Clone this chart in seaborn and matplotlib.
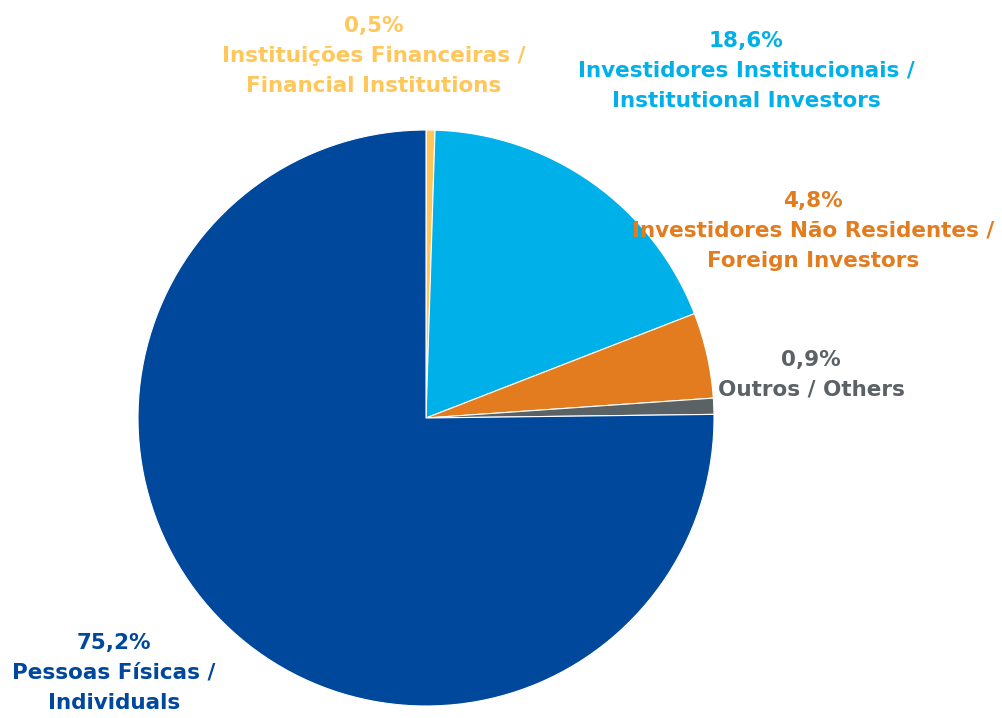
import matplotlib
matplotlib.use("Agg")
import matplotlib.pyplot as plt
import seaborn as sns

# shareholder base breakdown (%)
labels = [
    "Instituições Financeiras /\nFinancial Institutions",
    "Investidores Institucionais /\nInstitutional Investors",
    "Investidores Não Residentes /\nForeign Investors",
    "Outros / Others",
    "Pessoas Físicas /\nIndividuals",
]
shares = [0.5, 18.6, 4.8, 0.9, 75.2]
colors = ["#FFC65A", "#00B0E8", "#E27C1F", "#5B6266", "#00489C"]
# label block centres in pixels (x, y from top)
label_pos = [(374, 56), (746, 71), (813, 231), (811, 375), (114, 673)]

sns.set_theme(style="white")
plt.rcParams["font.family"] = ["DejaVu Sans"]

W, H = 1003, 718
fig = plt.figure(figsize=(W / 100, H / 100), dpi=100)
cx, cy, r = 426, 418, 288
ax = fig.add_axes([(cx - r) / W, (H - cy - r) / H, 2 * r / W, 2 * r / H])
ax.pie(shares, colors=colors, startangle=90, counterclock=False, radius=1,
       wedgeprops=dict(edgecolor="white", linewidth=0.8))
ax.set_xlim(-1, 1)
ax.set_ylim(-1, 1)
ax.set_aspect("equal")
ax.axis("off")

for lab, val, col, (px, py) in zip(labels, shares, colors, label_pos):
    txt = f"{val:.1f}%".replace(".", ",") + "\n" + lab
    fig.text(px / W, 1 - py / H, txt, ha="center", va="center",
             color=col, fontsize=15.5, fontweight="bold", linespacing=1.6)

fig.savefig("out.png", dpi=100)
